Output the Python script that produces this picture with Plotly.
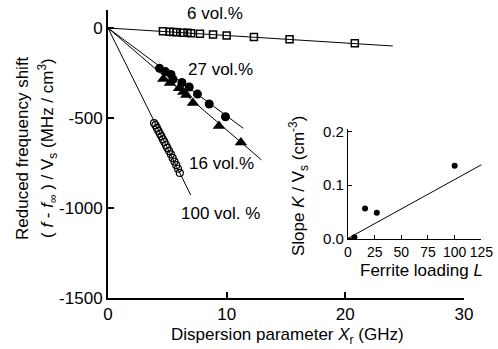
import plotly.graph_objects as go

# ---- main panel data ----
x6 = [4.63, 5.2, 5.5, 5.8, 6.3, 6.7, 7.0, 7.75, 8.85, 10.0, 12.3, 15.3, 20.8]
y6 = [-18, -21, -22, -24, -26, -27, -29, -32, -36, -41, -50, -62, -85]
fit6_x = [0, 24.0]
fit6_y = [0, -100]

x27 = [4.34, 4.84, 5.31, 5.48, 6.23, 6.85, 7.54, 8.53, 9.9]
y27 = [-224, -242, -258, -285, -303, -328, -367, -422, -493]
fit27_x = [0, 11.4]
fit27_y = [0, -557]

x16 = [4.66, 5.22, 5.98, 6.35, 6.6, 7.16, 9.35, 11.2]
y16 = [-283, -306, -335, -355, -372, -417, -544, -636]
fit16_x = [0, 12.94]
fit16_y = [0, -733]

x100 = [3.88, 4.0, 4.12, 4.25, 4.38, 4.5, 4.62, 4.75, 4.88, 5.0, 5.15, 5.3, 5.45, 5.6, 5.75, 5.9, 6.05]
y100 = [-528, -540, -555, -572, -588, -602, -618, -633, -650, -666, -684, -702, -722, -742, -762, -782, -805]
fit100_x = [0, 6.97]
fit100_y = [0, -928]

# ---- inset data ----
loading = [6, 16, 27, 100]
slopeK = [0.002, 0.056, 0.048, 0.136]
fitL_x = [0, 127]
fitL_y = [0, 0.14]

main_xticks = [0, 10, 20, 30]
main_xlabels = ["0", "10", "20", "30"]
main_yticks = [-1500, -1000, -500, 0]
main_ylabels = ["-1500", "-1000", "-500", "0"]
inset_xticks = [0, 25, 50, 75, 100, 125]
inset_xlabels = ["0", "25", "50", "75", "100", "125"]
inset_yticks = [0.0, 0.1, 0.2]
inset_ylabels = ["0.0", "0.1", "0.2"]

FONT = "Liberation Sans, Arial, sans-serif"
BLACK = "black"

fig = go.Figure()

def line(xs, ys, xa="x", ya="y"):
    fig.add_trace(go.Scatter(x=xs, y=ys, mode="lines", xaxis=xa, yaxis=ya,
                             line=dict(color=BLACK, width=1), showlegend=False, hoverinfo="skip"))

def pts(xs, ys, symbol, size, xa="x", ya="y", lw=1.5):
    fig.add_trace(go.Scatter(x=xs, y=ys, mode="markers", xaxis=xa, yaxis=ya,
                             marker=dict(symbol=symbol, size=size, color=BLACK,
                                         line=dict(color=BLACK, width=lw)),
                             showlegend=False))

line(fit6_x, fit6_y)
line(fit27_x, fit27_y)
line(fit16_x, fit16_y)
line(fit100_x, fit100_y)
pts(x6, y6, "square-open", 7)
pts(x27, y27, "circle", 9, lw=0)
pts(x16, y16, "triangle-up", 11, lw=0)
pts(x100, y100, "circle-open", 7, lw=1.2)

line(fitL_x, fitL_y, "x2", "y2")
pts(loading, slopeK, "circle", 6, "x2", "y2", lw=0)

axis_common = dict(showline=True, linecolor=BLACK, ticks="inside", tickcolor=BLACK,
                   showgrid=False, zeroline=False, mirror=False, tickmode="array",
                   tickangle=0, automargin=False)

fig.update_layout(
    width=498, height=349,
    margin=dict(l=108, r=10, t=10, b=51),
    plot_bgcolor="white", paper_bgcolor="white",
    font=dict(family=FONT, size=17, color=BLACK),
    xaxis=dict(domain=[0, 0.9368], range=[0, 30], tickvals=main_xticks, ticktext=main_xlabels,
               linewidth=2, tickwidth=1.5, ticklen=6,
               tickfont=dict(size=17), anchor="y", **axis_common),
    yaxis=dict(domain=[0, 1], range=[-1500, 100], tickvals=main_yticks, ticktext=main_ylabels,
               linewidth=2, tickwidth=1.5, ticklen=6,
               tickfont=dict(size=17), anchor="x", **axis_common),
    xaxis2=dict(domain=[0.6316, 0.9824], range=[0, 125], tickvals=inset_xticks, ticktext=inset_xlabels,
                linewidth=1.2, tickwidth=1, ticklen=4,
                tickfont=dict(size=14), anchor="y2", **axis_common),
    yaxis2=dict(domain=[0.2035, 0.5868], range=[-0.002, 0.205], tickvals=inset_yticks, ticktext=inset_ylabels,
                linewidth=1.2, tickwidth=1, ticklen=4,
                tickfont=dict(size=15), anchor="x2", **axis_common),
)

annots = [
    dict(text="6 vol.%", x=9.0, y=78, xref="x", yref="y"),
    dict(text="27 vol.%", x=9.44, y=-228, xref="x", yref="y"),
    dict(text="16 vol.%", x=9.58, y=-750, xref="x", yref="y"),
    dict(text="100 vol. %", x=9.52, y=-1028, xref="x", yref="y"),
]
for a in annots:
    fig.add_annotation(showarrow=False, font=dict(size=17), xanchor="center", yanchor="middle", **a)

W = 498 - 108 - 10
H = 349 - 10 - 51
def px(xp):
    return (xp - 108) / W
def py(yp):
    return (298 - yp) / H

def title(text, xp, yp, angle=0):
    fig.add_annotation(text=text, x=px(xp), y=py(yp), xref="paper", yref="paper",
                       xanchor="center", yanchor="middle", textangle=angle,
                       showarrow=False, font=dict(size=17))

title("Reduced frequency shift", 22, 148, -90)
title("( <i>f</i> - <i>f</i><sub>∞</sub> ) / V<sub>s</sub> (MHz / cm<sup>3</sup>)", 47, 148, -90)
title("Dispersion parameter <i>X</i><sub>r</sub> (GHz)", 287, 336)
title("Slope <i>K</i> / V<sub>s</sub> (cm<sup>-3</sup>)", 298, 186, -90)
title("Ferrite loading <i>L</i>", 421, 270)

fig.write_html("out.html")
